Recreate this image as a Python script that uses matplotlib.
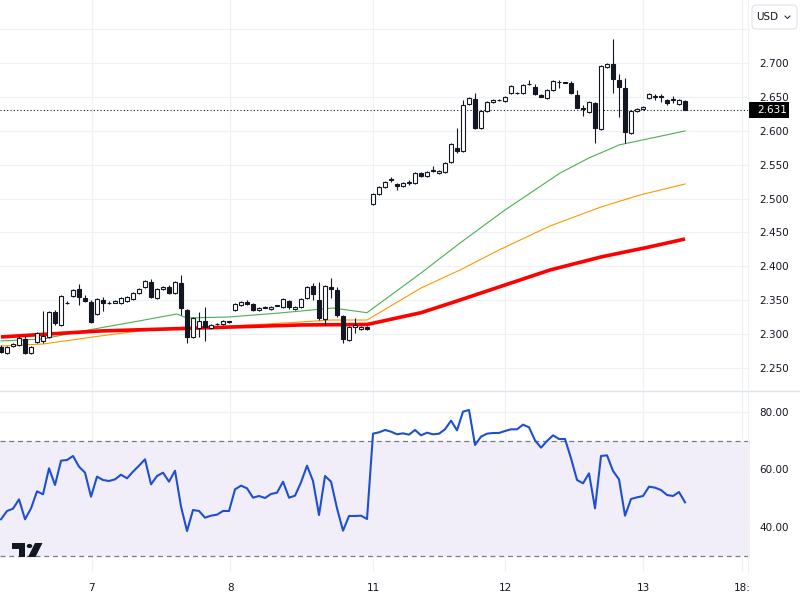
import matplotlib
matplotlib.use("Agg")
import matplotlib.pyplot as plt
import matplotlib.transforms as mtransforms
from matplotlib.patches import Rectangle, FancyBboxPatch, Circle, Polygon
from matplotlib.lines import Line2D
import numpy as np

# ── hourly candles (USD) ─────────────────────────────────────
opens = [
    2.2811, 2.2723, 2.2826, 2.2841, 2.2929, 2.2723, 2.2885, 2.2900, 2.2959, 2.3327,
    2.3136, 2.3453, 2.3563, 2.3667, 2.3534, 2.3475, 2.3298, 2.3504, 2.3460, 2.3460,
    2.3460, 2.3490, 2.3519, 2.3608, 2.3696, 2.3770, 2.3534, 2.3667, 2.3696, 2.3608,
    2.3755, 2.3357, 2.2959, 2.3091, 2.3195, 2.3091, 2.3143, 2.3150, 2.3187, 2.3357,
    2.3431, 2.3475, 2.3445, 2.3357, 2.3401, 2.3372, 2.3416, 2.3401, 2.3490, 2.3372,
    2.3401, 2.3534, 2.3711, 2.3504, 2.3224, 2.3696, 2.3652, 2.3268, 2.2914, 2.3106,
    2.3077, 2.3106, 2.4920, 2.5068, 2.5171, 2.5289, 2.5215, 2.5186, 2.5230, 2.5230,
    2.5378, 2.5333, 2.5414, 2.5378, 2.5392, 2.5540, 2.5746, 2.5702, 2.6395, 2.6470,
    2.6041, 2.6292, 2.6425, 2.6455, 2.6440, 2.6558, 2.6558, 2.6558, 2.6690, 2.6646,
    2.6528, 2.6484, 2.6600, 2.6720, 2.6710, 2.6705, 2.6528, 2.6329, 2.6277, 2.6410,
    2.6027, 2.6940, 2.6985, 2.6749, 2.6630, 2.5968, 2.6292, 2.6322, 2.6484, 2.6499,
    2.6506, 2.6455, 2.6455, 2.6395, 2.6440,
]
highs = [
    2.2841, 2.2826, 2.2870, 2.2973, 2.2973, 2.2826, 2.3032, 2.3342, 2.3342, 2.3357,
    2.3578, 2.3490, 2.3667, 2.3740, 2.3578, 2.3504, 2.3534, 2.3549, 2.3490, 2.3497,
    2.3549, 2.3563, 2.3622, 2.3681, 2.3799, 2.3814, 2.3681, 2.3711, 2.3726, 2.3784,
    2.3873, 2.3372, 2.3254, 2.3327, 2.3401, 2.3150, 2.3165, 2.3209, 2.3195, 2.3460,
    2.3490, 2.3504, 2.3460, 2.3401, 2.3409, 2.3416, 2.3431, 2.3534, 2.3504, 2.3416,
    2.3534, 2.3711, 2.3755, 2.3770, 2.3726, 2.3829, 2.3696, 2.3283, 2.3121, 2.3239,
    2.3121, 2.3121, 2.5083, 2.5186, 2.5260, 2.5319, 2.5230, 2.5245, 2.5274, 2.5392,
    2.5392, 2.5407, 2.5481, 2.5422, 2.5540, 2.5820, 2.6041, 2.6455, 2.6499, 2.6558,
    2.6307, 2.6440, 2.6470, 2.6462, 2.6513, 2.6676, 2.6565, 2.6690, 2.6749, 2.6690,
    2.6536, 2.6617, 2.6749, 2.6749, 2.6720, 2.6735, 2.6600, 2.6380, 2.6440, 2.6425,
    2.6970, 2.7000, 2.7354, 2.6838, 2.6779, 2.6307, 2.6336, 2.6366, 2.6558, 2.6543,
    2.6543, 2.6462, 2.6513, 2.6470, 2.6455,
]
lows = [
    2.2723, 2.2708, 2.2811, 2.2826, 2.2708, 2.2708, 2.2870, 2.2870, 2.2944, 2.3136,
    2.3121, 2.3445, 2.3549, 2.3431, 2.3475, 2.3165, 2.3283, 2.3342, 2.3438, 2.3453,
    2.3445, 2.3475, 2.3504, 2.3593, 2.3681, 2.3534, 2.3519, 2.3652, 2.3593, 2.3593,
    2.3283, 2.2870, 2.2944, 2.2959, 2.2900, 2.3077, 2.3136, 2.3136, 2.3165, 2.3342,
    2.3416, 2.3431, 2.3342, 2.3342, 2.3379, 2.3357, 2.3409, 2.3386, 2.3372, 2.3357,
    2.3386, 2.3519, 2.3504, 2.3209, 2.3136, 2.3534, 2.3254, 2.2870, 2.2900, 2.3018,
    2.3062, 2.3062, 2.4906, 2.5053, 2.5156, 2.5245, 2.5127, 2.5171, 2.5201, 2.5215,
    2.5319, 2.5319, 2.5392, 2.5363, 2.5378, 2.5525, 2.5673, 2.5687, 2.6380, 2.6027,
    2.6027, 2.6277, 2.6410, 2.6443, 2.6425, 2.6543, 2.6543, 2.6543, 2.6676, 2.6528,
    2.6491, 2.6470, 2.6590, 2.6630, 2.6700, 2.6543, 2.6329, 2.6218, 2.6262, 2.5820,
    2.6012, 2.6930, 2.6558, 2.6204, 2.5820, 2.5953, 2.6277, 2.6307, 2.6470, 2.6455,
    2.6425, 2.6380, 2.6410, 2.6380, 2.6314,
]
closes = [
    2.2737, 2.2811, 2.2855, 2.2944, 2.2723, 2.2811, 2.3018, 2.2973, 2.3327, 2.3165,
    2.3563, 2.3467, 2.3652, 2.3549, 2.3490, 2.3180, 2.3519, 2.3460, 2.3456, 2.3490,
    2.3534, 2.3549, 2.3608, 2.3667, 2.3784, 2.3549, 2.3667, 2.3696, 2.3608, 2.3770,
    2.3386, 2.2959, 2.3239, 2.3195, 2.3106, 2.3136, 2.3150, 2.3195, 2.3180, 2.3445,
    2.3475, 2.3445, 2.3357, 2.3386, 2.3386, 2.3401, 2.3423, 2.3519, 2.3401, 2.3401,
    2.3519, 2.3696, 2.3593, 2.3239, 2.3711, 2.3667, 2.3283, 2.2929, 2.3106, 2.3136,
    2.3106, 2.3077, 2.5068, 2.5171, 2.5245, 2.5274, 2.5186, 2.5230, 2.5238, 2.5378,
    2.5333, 2.5392, 2.5422, 2.5407, 2.5525, 2.5805, 2.5702, 2.6380, 2.6484, 2.6041,
    2.6292, 2.6425, 2.6455, 2.6450, 2.6499, 2.6660, 2.6553, 2.6676, 2.6686, 2.6543,
    2.6499, 2.6600, 2.6735, 2.6715, 2.6705, 2.6558, 2.6336, 2.6322, 2.6425, 2.6041,
    2.6960, 2.6985, 2.6764, 2.6646, 2.5982, 2.6292, 2.6322, 2.6351, 2.6543, 2.6506,
    2.6499, 2.6410, 2.6462, 2.6455, 2.6310,
]

# ── moving averages, read at a few candle positions ─────────
ma_fast_at = [0, 7, 12.7, 23, 29.3, 31, 38, 46.5, 55.3, 61, 70, 76.5, 84, 93.2, 98, 101.5, 103, 114]
ma_fast = [2.2900, 2.2929, 2.3032, 2.3195, 2.3298, 2.3239, 2.3254, 2.3313, 2.3386, 2.3317,
           2.3902, 2.4345, 2.4832, 2.5378, 2.5600, 2.5732, 2.5791, 2.5997]
ma_mid_at = [0, 7, 16.5, 23, 33, 41.5, 50, 55, 61, 70, 76.5, 83, 91.5, 100, 106.5, 114]
ma_mid = [2.2826, 2.2855, 2.2973, 2.3047, 2.3091, 2.3136, 2.3180, 2.3209, 2.3209, 2.3681,
          2.3947, 2.4242, 2.4596, 2.4876, 2.5053, 2.5215]
ma_slow_at = [0, 8, 16.5, 25, 33, 41.5, 50, 61, 70, 75, 83, 91.5, 100, 108, 114]
ma_slow = [2.2959, 2.3003, 2.3047, 2.3070, 2.3091, 2.3114, 2.3136, 2.3143, 2.3317, 2.3460,
           2.3696, 2.3947, 2.4139, 2.4286, 2.4404]

# ── RSI ──────────────────────────────────────────────────────
rsi = [
    42.67, 45.57, 46.38, 49.62, 42.67, 46.49, 52.41, 51.36, 60.41, 54.61,
    63.07, 63.30, 64.70, 60.99, 58.90, 50.55, 57.51, 56.35, 56.00, 56.58,
    58.20, 56.93, 59.25, 61.33, 63.54, 54.84, 57.74, 58.90, 55.77, 59.59,
    47.07, 38.61, 45.91, 45.57, 43.25, 43.94, 44.29, 45.57, 45.57, 53.10,
    54.38, 53.45, 50.20, 50.78, 50.09, 51.48, 51.94, 55.77, 50.20, 50.90,
    55.54, 61.33, 56.00, 44.17, 57.74, 55.77, 46.49, 38.72, 43.83, 43.83,
    43.94, 42.78, 72.46, 72.93, 73.74, 73.16, 72.23, 72.58, 72.12, 73.74,
    71.88, 72.81, 72.23, 72.46, 73.97, 76.99, 73.62, 80.12, 80.70, 68.52,
    71.42, 72.46, 72.70, 72.70, 73.39, 73.97, 73.97, 75.59, 74.67, 70.14,
    67.59, 69.91, 71.88, 70.61, 70.61, 63.88, 56.35, 55.19, 58.67, 46.49,
    64.70, 64.93, 59.48, 56.58, 43.94, 49.74, 50.32, 50.78, 54.03, 53.68,
    52.87, 51.13, 50.78, 52.17, 48.58,
]

day_labels = ["7", "8", "11", "12", "13", "18:"]
day_pos = [15.1, 38.2, 62, 84, 107, 123.5]

price_ticks = [2.25, 2.30, 2.35, 2.40, 2.45, 2.50, 2.55, 2.60, 2.65, 2.70]
rsi_ticks = [40, 60, 80]

# ── style ────────────────────────────────────────────────────
INK = "#131722"
GRID = "#eff1f5"
BORDER = "#e0e3eb"
plt.rcParams.update({"font.family": "DejaVu Sans", "font.size": 7.5})

W, H = 800, 600
def fx(px):
    return px / W
def fy(py):
    return 1 - py / H

fig = plt.figure(figsize=(8, 6), dpi=100)
ax1 = fig.add_axes([0, fy(391), fx(750), 391 / H])
ax2 = fig.add_axes([0, fy(572), fx(750), 181 / H])

xlim = (-0.17, 124.83)
for ax in (ax1, ax2):
    ax.set_xlim(*xlim)
    for s in ax.spines.values():
        s.set_visible(False)
    ax.set_xticks(day_pos)
    ax.grid(axis="x", color=GRID, lw=0.9)
    ax.set_axisbelow(True)
    ax.yaxis.tick_right()
    ax.tick_params(axis="y", length=0, pad=7, labelsize=7.5, colors=INK)
    ax.tick_params(axis="x", length=0)

# ── price panel ──────────────────────────────────────────────
ax1.set_ylim(2.2162, 2.7929)
ax1.set_yticks(price_ticks)
ax1.set_yticklabels([f"{v:.3f}" for v in price_ticks])
ax1.grid(axis="y", color=GRID, lw=0.9)
ax1.axhline(2.75, color=GRID, lw=0.9, zorder=0)
ax1.tick_params(axis="x", labelbottom=False)

ax1.plot(ma_fast_at, ma_fast, color="#4caf50", lw=0.8, zorder=2)
ax1.plot(ma_mid_at, ma_mid, color="#ff9800", lw=0.8, zorder=2)
ax1.plot(ma_slow_at, ma_slow, color="#ff0000", lw=2.6, zorder=2, solid_capstyle="butt")

x = np.arange(len(closes))
o = np.array(opens)
c = np.array(closes)
up = c >= o
body_lo = np.minimum(o, c)
body_h = np.maximum(np.abs(c - o), 0.0008)
ax1.vlines(x, lows, highs, color=INK, lw=0.8, zorder=3)
ax1.bar(x[up], body_h[up], bottom=body_lo[up], width=0.7,
        facecolor="white", edgecolor=INK, linewidth=0.8, zorder=4)
ax1.bar(x[~up], body_h[~up], bottom=body_lo[~up], width=0.7,
        facecolor=INK, edgecolor=INK, linewidth=0.8, zorder=4)

last = closes[-1]
ax1.axhline(last, color=INK, lw=0.8, ls=(0, (1, 2)), zorder=2.5)
blend = mtransforms.blended_transform_factory(ax1.transAxes, ax1.transData)
ax1.add_patch(Rectangle((749 / 750, last - 0.0118), 40 / 750, 0.0236, transform=blend,
                        facecolor="black", edgecolor="none", clip_on=False, zorder=6))
ax1.text(757 / 750, last, f"{last:.3f}", transform=blend, color="white",
         fontsize=7.5, va="center", ha="left", clip_on=False, zorder=7)

# ── RSI panel ────────────────────────────────────────────────
ax2.set_ylim(24.35, 87.3)
ax2.set_yticks(rsi_ticks)
ax2.set_yticklabels([f"{v:.2f}" for v in rsi_ticks])
ax2.grid(axis="y", color=GRID, lw=0.9)
ax2.axhspan(30, 70, color="#f2eef9", lw=0, zorder=0.5)
for lvl in (70, 30):
    ax2.axhline(lvl, color="#787b86", lw=0.9, ls=(0, (4, 3)), zorder=1)
ax2.plot(x, rsi, color="#1f4fd1", lw=1.5, zorder=3)
ax2.set_xticklabels(day_labels)
ax2.tick_params(axis="x", pad=8, labelsize=7.5, colors=INK)

# ── frame lines ──────────────────────────────────────────────
fig.add_artist(Line2D([0, 1], [fy(391), fy(391)], color=BORDER, lw=1))
fig.add_artist(Line2D([fx(748), fx(748)], [fy(0), fy(572)], color=GRID, lw=0.8))

# currency button
fig.add_artist(FancyBboxPatch((fx(752), fy(29)), fx(45), 24 / H,
                              boxstyle="round,pad=0,rounding_size=0.006",
                              transform=fig.transFigure, facecolor="white",
                              edgecolor=BORDER, lw=0.8))
fig.text(fx(756), fy(17), "USD", fontsize=7.5, color=INK, va="center", ha="left")
fig.add_artist(Line2D([fx(785), fx(787.5), fx(790)], [fy(16), fy(18.5), fy(16)],
                      color=INK, lw=0.7))

# logo
fig.add_artist(Polygon([(fx(12), fy(543)), (fx(25), fy(543)), (fx(25), fy(557)),
                        (fx(18.5), fy(557)), (fx(18.5), fy(548.5)), (fx(12), fy(548.5))],
                       closed=True, transform=fig.transFigure, facecolor=INK, edgecolor="none"))
fig.add_artist(Circle((fx(29.5), fy(546)), 2.8 / W, transform=fig.transFigure,
                      facecolor=INK, edgecolor="none"))
fig.add_artist(Polygon([(fx(35), fy(543)), (fx(42.5), fy(543)), (fx(35.5), fy(557)),
                        (fx(28), fy(557))],
                       closed=True, transform=fig.transFigure, facecolor=INK, edgecolor="none"))

fig.savefig("out.png", dpi=100)
plt.close()
